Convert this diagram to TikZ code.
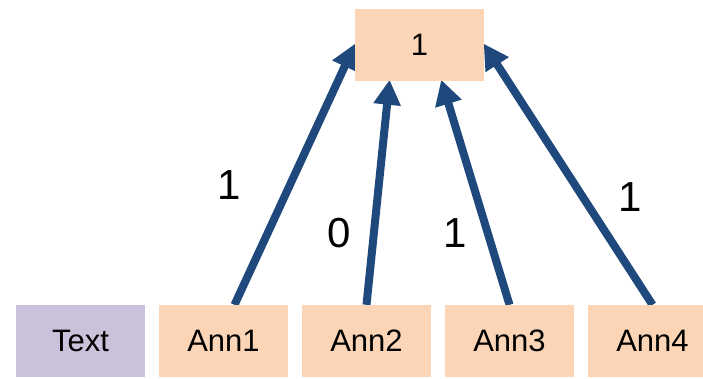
\documentclass[tikz,border=0pt]{standalone}
\usepackage{fontspec}
\setmainfont{Liberation Sans}
\usetikzlibrary{arrows.meta,calc,backgrounds}
\definecolor{peach}{HTML}{FBD5B5}
\definecolor{lav}{HTML}{CCC1DA}
\definecolor{arrowblue}{HTML}{1F497D}
\tikzset{
  box/.style={fill=peach, draw=none, minimum width=129pt, minimum height=72pt, inner sep=0pt, font=\fontsize{31}{34}\selectfont},
  textbox/.style={box, fill=lav},
  conn/.style={draw=arrowblue, line width=8pt, -{Triangle[length=25pt,width=26pt]}, shorten >=-1pt},
  lbl/.style={font=\fontsize{42}{48}\selectfont, inner sep=0pt}
}
\begin{document}
\begin{tikzpicture}[x=1pt,y=-1pt]
\useasboundingbox (0,0) rectangle (703,378);
\node[box] (top) at (419.5,44.5) {1};
\node[textbox] (txt) at (80.5,341) {Text};
\node[box] (a1) at (223.5,341) {Ann1};
\node[box] (a2) at (366.5,341) {Ann2};
\node[box] (a3) at (509.5,341) {Ann3};
\node[box] (a4) at (652.5,341) {Ann4};
\begin{pgfonlayer}{background}
\draw[conn] ($(a1.north)+(11,0)$) -- (top.west);
\draw[conn] (a2.north) -- ($(top.south)+(-30,0)$);
\draw[conn] (a3.north) -- ($(top.south)+(22,0)$);
\draw[conn] (a4.north) -- (top.east);
\end{pgfonlayer}
\node[lbl] (l1) at (229,185) {1};
\node[lbl] (l2) at (339,233) {0};
\node[lbl] (l3) at (455,233) {1};
\node[lbl] (l4) at (630,197) {1};
\end{tikzpicture}
\end{document}
